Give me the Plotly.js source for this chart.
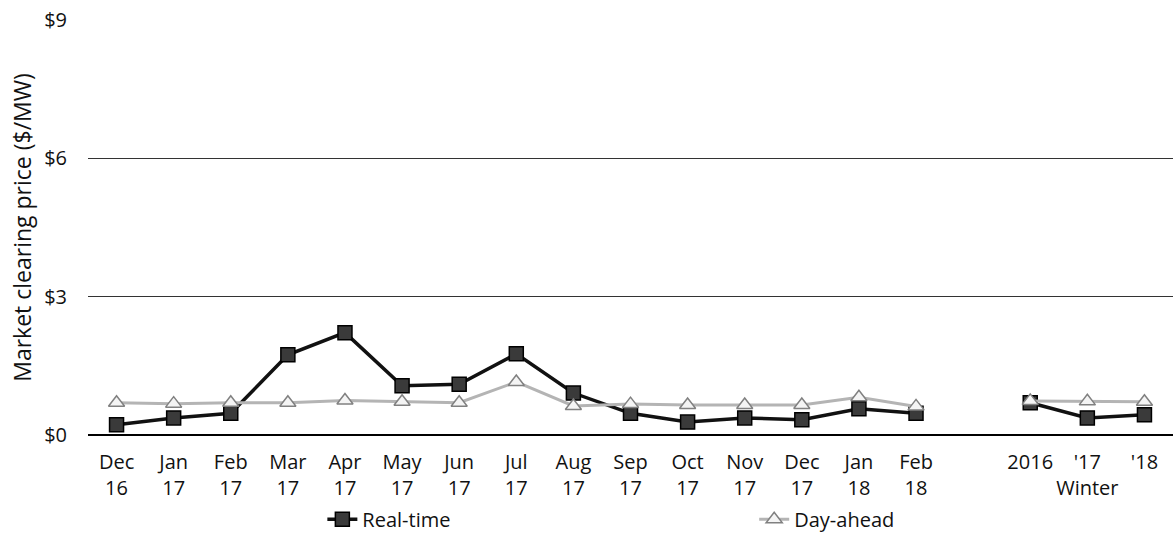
<!DOCTYPE html>
<html>
<head>
<meta charset="utf-8">
<script src="https://cdn.plot.ly/plotly-3.0.1.min.js"></script>
<style>html,body{margin:0;padding:0;background:#fff;}#chart{width:1173px;height:550px;}</style>
</head>
<body>
<div id="chart"></div>
<script>
// Categories (monthly, then a blank spacer, then winter averages)
const categories = ["Dec<br>16","Jan<br>17","Feb<br>17","Mar<br>17","Apr<br>17","May<br>17","Jun<br>17","Jul<br>17","Aug<br>17","Sep<br>17","Oct<br>17","Nov<br>17","Dec<br>17","Jan<br>18","Feb<br>18"," ","2016","'17<br>Winter","'18"];
const realTime = [0.22,0.37,0.47,1.74,2.22,1.07,1.10,1.76,0.91,0.47,0.28,0.37,0.33,0.57,0.47,null,0.70,0.37,0.44];
const dayAhead = [0.70,0.68,0.70,0.70,0.75,0.72,0.70,1.15,0.63,0.67,0.65,0.65,0.65,0.82,0.62,null,0.74,0.73,0.72];
const yTickVals = [0,3,6,9];
const yTickText = ["$0","$3","$6","$9"];

const FONT = "'Open Sans', 'Noto Sans', sans-serif";

const traces = [
  {
    x: categories, y: realTime, name: "Real-time", type: "scatter", mode: "lines+markers",
    connectgaps: false, legend: "legend",
    line: {color: "#111", width: 3.5},
    marker: {symbol: "square", size: 14, color: "#3a3a3a", line: {color: "#000", width: 1.5}}
  },
  {
    x: categories, y: dayAhead, name: "Day-ahead", type: "scatter", mode: "lines+markers",
    connectgaps: false, legend: "legend2",
    line: {color: "#b4b4b4", width: 3},
    marker: {symbol: "triangle-up", size: 14, color: "#f4f4f4", line: {color: "#808080", width: 1.5}}
  }
];

const legendCommon = {
  orientation: "h", xanchor: "left", yanchor: "middle", y: -0.203,
  bgcolor: "rgba(0,0,0,0)",
  font: {family: FONT, size: 20, color: "#111"}
};

const layout = {
  width: 1173, height: 550,
  margin: {l: 88, r: 0, t: 20, b: 115},
  paper_bgcolor: "#fff", plot_bgcolor: "#fff",
  font: {family: FONT, size: 20, color: "#111"},
  xaxis: {
    type: "category", categoryorder: "array", categoryarray: categories,
    range: [-0.5, categories.length - 0.5],
    showgrid: false, zeroline: false, showline: false, ticks: "",
    tickangle: 0,
    tickfont: {family: FONT, size: 20, color: "#111"},
    ticklabelstandoff: 13
  },
  yaxis: {
    range: [0, 9], tickvals: yTickVals, ticktext: yTickText,
    showgrid: true, gridcolor: "#333", gridwidth: 1,
    zeroline: true, zerolinecolor: "#000", zerolinewidth: 2.5,
    showline: false, ticks: "",
    tickfont: {family: FONT, size: 20, color: "#111"},
    ticklabelstandoff: 20,
    title: {text: "Market clearing price ($/MW)", font: {family: FONT, size: 23, color: "#111"}, standoff: 6}
  },
  showlegend: true,
  legend: Object.assign({}, legendCommon, {x: 0.216}),
  legend2: Object.assign({}, legendCommon, {x: 0.614})
};

Plotly.newPlot("chart", traces, layout, {displayModeBar: false, staticPlot: true});
</script>
</body>
</html>
